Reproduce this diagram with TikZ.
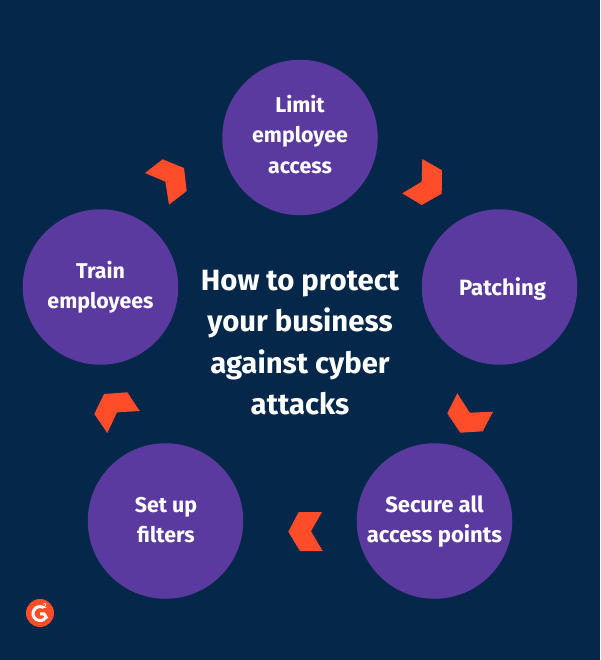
\documentclass[tikz,border=0pt]{standalone}
\usepackage{fontspec}
\setmainfont{Fira Sans}
\definecolor{bgc}{HTML}{05284A}
\definecolor{purp}{HTML}{5B3A9F}
\definecolor{orng}{HTML}{FF4D2A}
\tikzset{
 stepcircle/.style={circle,fill=purp,minimum size=155.5pt,inner sep=0pt},
 steptext/.style={text=white,align=center,inner sep=0pt,font=\fontsize{22.1}{30.6}\selectfont\bfseries},
 steptextsmall/.style={text=white,align=center,inner sep=0pt,font=\fontsize{21.4}{30.6}\selectfont\bfseries},
 chev/.style={fill=orng,draw=none},
 titletext/.style={text=white,align=center,font=\fontsize{29.3}{41.3}\selectfont\bfseries}
}
\begin{document}
\begin{tikzpicture}[x=1pt,y=-1pt]
\useasboundingbox (0,0) rectangle (600,660);
\fill[bgc] (0,0) rectangle (600,660);
\node[stepcircle] (limit) at (300,137.5) {};
\node[stepcircle] (patch) at (499.5,287) {};
\node[stepcircle] (secure) at (434.5,521) {};
\node[stepcircle] (filters) at (165.5,521) {};
\node[stepcircle] (train) at (100.5,287) {};
\node[steptextsmall] (limitt) at (300,134.5) {Limit\\employee\\access};
\node[steptext] (patcht) at (502.5,288.5) {Patching};
\node[steptext] (securet) at (434.5,521.5) {Secure all\\access points};
\node[steptextsmall] (filterst) at (166,520) {Set up\\filters};
\node[steptextsmall] (traint) at (100.5,287) {Train\\employees};
\node[titletext] (title) at (300,342.5) {How to protect\\your business\\against cyber\\attacks};
\fill[chev] (145,173)--(162.7,159.3)--(184,168)--(186.7,191)--(169,204.7)--(165.3,181.7)--cycle;
\fill[chev] (422.3,159)--(442,170.3)--(441.7,193.7)--(421.7,205)--(402.3,193.3)--(421.7,181.7)--cycle;
\fill[chev] (457.3,393.3)--(469.7,412.7)--(493,411.7)--(482.7,431.3)--(460.3,432.7)--(447.3,413.3)--cycle;
\fill[chev] (298.7,512)--(322,512)--(311,531.3)--(322.7,551)--(300,551)--(288.3,531.7)--cycle;
\fill[chev] (104,394)--(127.3,392.3)--(139.7,411)--(117,412.3)--(107.3,433)--(94.3,414)--cycle;
\node[circle,fill=orng,minimum size=28pt,inner sep=0pt] (logo) at (40,613) {};
\draw[white,line width=3pt] (43.5,607.5) arc (-60:-325:7) ;
\draw[white,line width=3pt] (40,613.8) -- (44,613.8) -- (47,618.5);
\node[text=white,inner sep=0pt,font=\fontsize{7}{7}\selectfont\bfseries] (sup) at (45,606.5) {2};
\end{tikzpicture}
\end{document}
